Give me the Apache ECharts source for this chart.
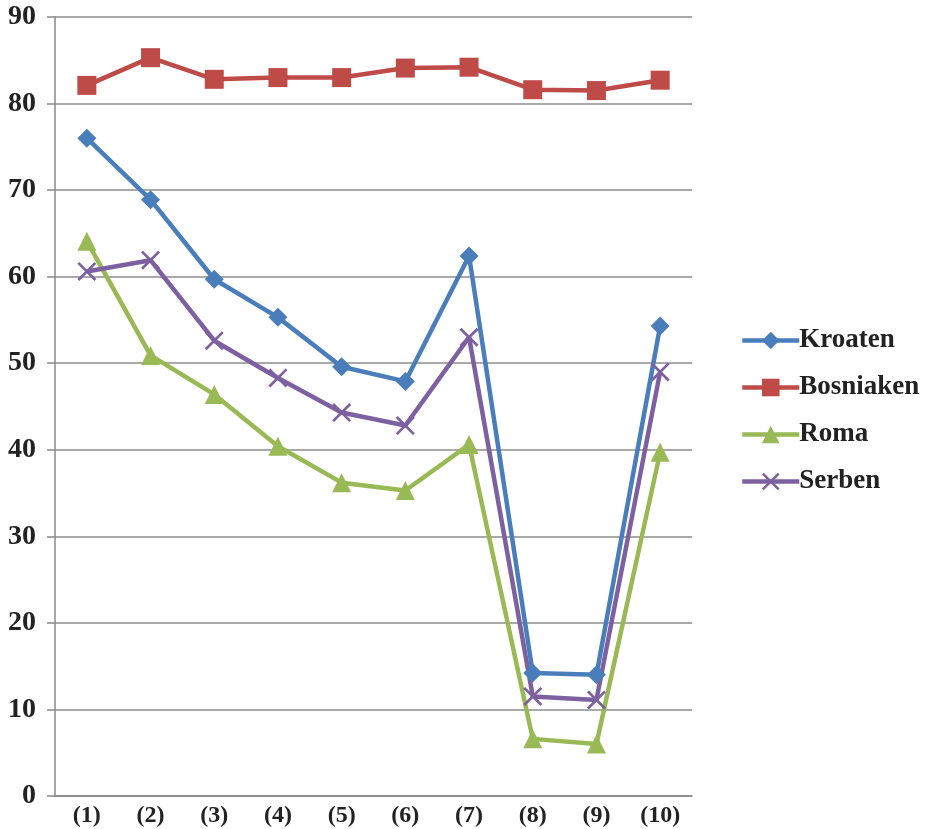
<!DOCTYPE html>
<html>
<head>
<meta charset="utf-8">
<script src="https://cdn.jsdelivr.net/npm/echarts@6/dist/echarts.min.js"></script>
<style>
  html, body { margin: 0; padding: 0; background: #fff; }
  #chart { width: 936px; height: 829px; }
</style>
</head>
<body>
<div id="chart"></div>
<script>
// Kategorien und Werte
const categories = ['(1)', '(2)', '(3)', '(4)', '(5)', '(6)', '(7)', '(8)', '(9)', '(10)']
const kroaten = [76.0, 68.9, 59.7, 55.3, 49.6, 47.9, 62.4, 14.2, 14.0, 54.3]
const bosniaken = [82.1, 85.3, 82.8, 83.0, 83.0, 84.1, 84.2, 81.6, 81.5, 82.7]
const roma = [64.1, 50.9, 46.4, 40.4, 36.2, 35.3, 40.6, 6.6, 6.0, 39.7]
const serben = [60.6, 61.9, 52.6, 48.3, 44.3, 42.8, 53.0, 11.5, 11.1, 49.0]

const fontFamily = '"Liberation Serif", "DejaVu Serif", serif'
const crossPath = 'path://M0,1L1,0L10,9L9,10ZM9,0L10,1L1,10L0,9Z'

function line (name, data, color, symbol, size) {
  return {
    name: name,
    type: 'line',
    data: data,
    symbol: symbol,
    symbolSize: size,
    showSymbol: true,
    lineStyle: { width: 4.5, color: color },
    itemStyle: { color: color },
    emphasis: { disabled: true }
  }
}

const chart = echarts.init(document.getElementById('chart'))
chart.setOption({
  animation: false,
  textStyle: { fontFamily: fontFamily },
  grid: { left: 55, right: 244, top: 17, bottom: 33, containLabel: false },
  legend: {
    orient: 'vertical',
    left: 735,
    top: 322,
    itemWidth: 57,
    itemHeight: 22,
    itemGap: 20,
    lineStyle: { width: 4.5 },
    textStyle: { fontFamily: fontFamily, fontSize: 27, fontWeight: 'bold', color: '#222', padding: [0, 0, 0, -5] },
    data: ['Kroaten', 'Bosniaken', 'Roma', 'Serben']
  },
  xAxis: {
    type: 'category',
    data: categories,
    boundaryGap: true,
    axisLine: { lineStyle: { color: '#888', width: 1.5 } },
    axisTick: { show: false },
    axisLabel: { fontFamily: fontFamily, fontSize: 24, fontWeight: 'bold', color: '#222', margin: 8 }
  },
  yAxis: {
    type: 'value',
    min: 0,
    max: 90,
    interval: 10,
    axisLine: { show: true, lineStyle: { color: '#888', width: 1.5 } },
    axisTick: { show: true, length: 8, lineStyle: { color: '#888', width: 1.5 } },
    splitLine: { lineStyle: { color: '#8c8c8c', width: 1.5 } },
    axisLabel: { fontFamily: fontFamily, fontSize: 28, fontWeight: 'bold', color: '#222', margin: 19 }
  },
  series: [
    line('Kroaten', kroaten, '#4A7EBB', 'diamond', 19),
    line('Bosniaken', bosniaken, '#BE4B48', 'rect', 19),
    line('Roma', roma, '#98B954', 'triangle', 19),
    line('Serben', serben, '#7D60A0', crossPath, 19)
  ]
})
</script>
</body>
</html>
